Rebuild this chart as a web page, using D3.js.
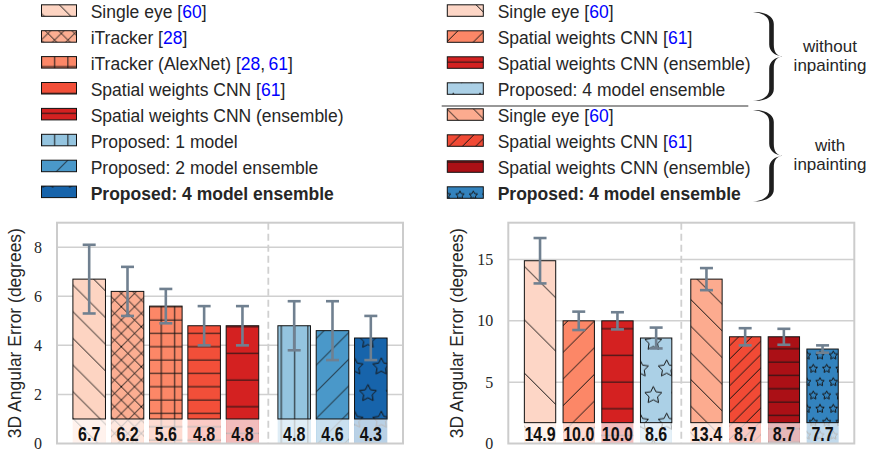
<!DOCTYPE html>
<html>
<head>
<meta charset="utf-8">
<script src="https://d3js.org/d3.v7.min.js"></script>
<style>
  body { margin: 0; background: #fff; }
  svg { display: block; }
</style>
</head>
<body>
<svg id="chart" width="881" height="454"></svg>
<script>
// ---- values ----
const leftNames = ["Single eye", "iTracker", "iTracker (AlexNet)", "Spatial weights CNN",
  "Spatial weights CNN (ensemble)", "Proposed: 1 model", "Proposed: 2 model ensemble",
  "Proposed: 4 model ensemble"];
const leftCites = [["60"], ["28"], ["28", "61"], ["61"], [], [], [], []];
const leftMeans = [6.7, 6.2, 5.6, 4.8, 4.8, 4.8, 4.6, 4.3];
const leftErrs = [1.4, 1.0, 0.7, 0.8, 0.8, 1.0, 1.2, 0.9];
const leftGroup = [0, 0, 0, 0, 0, 1, 1, 1];
const leftTicks = [0, 2, 4, 6, 8];

const rightNames = ["Single eye", "Spatial weights CNN", "Spatial weights CNN (ensemble)",
  "Proposed: 4 model ensemble", "Single eye", "Spatial weights CNN",
  "Spatial weights CNN (ensemble)", "Proposed: 4 model ensemble"];
const rightCites = [["60"], ["61"], [], [], ["60"], ["61"], [], []];
const rightMeans = [14.9, 10.0, 10.0, 8.6, 13.4, 8.7, 8.7, 7.7];
const rightErrs = [1.85, 0.75, 0.7, 0.85, 0.9, 0.7, 0.65, 0.3];
const rightGroup = [0, 0, 0, 0, 1, 1, 1, 1];
const rightTicks = [0, 5, 10, 15];

const groupLabels = [["without", "inpainting"], ["with", "inpainting"]];
const yLabel = "3D Angular Error (degrees)";

// ---- styles ----
const leftColors = ["#fdd4c2", "#fcae92", "#fc8767", "#f24f39", "#d42121", "#94c4df", "#4a98c9", "#1764ab"];
const leftHatches = ["\\\\", "xxxx", "++", "--", "-", "||", "//", "*"];
const leftBold = [false, false, false, false, false, false, false, true];
const rightColors = ["#fdd6c6", "#fc8767", "#d42121", "#abd0e6", "#fcab8f", "#f14a35", "#ab1016", "#3383be"];
const rightHatches = ["\\", "//", "-", "*", "\\\\", "////", "--", "**"];
const rightBold = [false, false, false, false, false, false, false, true];

const TEXT = "#262626";
const SANS = "'Liberation Sans', Arial, sans-serif";
const U = 160; // hatch unit square (px)

const svg = d3.select("#chart");
const defs = svg.append("defs");

// matplotlib-like hatch tile, anchored at a figure origin
function makePattern(id, hatch, origin) {
  const cnt = c => hatch.split(c).length - 1;
  const D = 6;
  const nH = (cnt("-") + cnt("+")) * D;
  const nV = (cnt("|") + cnt("+")) * D;
  const nNE = (cnt("/") + cnt("x")) * D;
  const nSE = (cnt("\\") + cnt("x")) * D;
  const nStar = cnt("*") * D;
  const P = (u, v) => [u * U, (1 - v) * U];
  const segs = [];
  for (let k = 0; k < nH; k++) { const v = (k + 0.5) / nH; segs.push([P(0, v), P(1, v)]); }
  for (let k = 0; k < nV; k++) { const u = (k + 0.5) / nV; segs.push([P(u, 0), P(u, 1)]); }
  for (let k = 0; k <= nNE && nNE; k++) { const s = -0.5 + k / nNE; segs.push([P(s, -s), P(1 + s, 1 - s)]); }
  for (let k = 0; k <= nSE && nSE; k++) { const s = -0.5 + k / nSE; segs.push([P(s, 1 + s), P(1 + s, s)]); }

  let d = segs.map(s => `M${s[0][0]},${s[0][1]}L${s[1][0]},${s[1][1]}`).join("");
  if (nStar) {
    const off = 1 / nStar;
    const r = off * U / 3;
    for (let row = 0; row <= nStar; row++) {
      const cols = row % 2 === 0
        ? d3.range(nStar + 1).map(k => k * off)
        : d3.range(nStar).map(k => off / 2 + k * off);
      cols.forEach(c => {
        const [cx, cy] = P(c, row * off);
        const pts = d3.range(10).map(k => {
          const th = Math.PI / 2 + k * Math.PI / 5;
          const rr = k % 2 === 0 ? r : r / 2;
          return [cx + rr * Math.cos(th), cy - rr * Math.sin(th)];
        });
        d += "M" + pts.map(p => p.join(",")).join("L") + "Z";
      });
    }
  }
  const pat = defs.append("pattern")
    .attr("id", id)
    .attr("patternUnits", "userSpaceOnUse")
    .attr("x", origin[0]).attr("y", origin[1] - U)
    .attr("width", U).attr("height", U);
  pat.append("path").attr("d", d)
    .attr("fill", "none").attr("stroke", "#141414").attr("stroke-width", 1);
}

function drawPanel(cfg) {
  const n = cfg.means.length;
  const pos = d3.range(n).map(i => i + cfg.group[i] * cfg.gap);
  const last = pos[n - 1];
  const x = d3.scaleLinear().domain([-cfg.pad, last + cfg.pad]).range([cfg.x0, cfg.x1]);
  const y = d3.scaleLinear().domain([0, cfg.ymax]).range([cfg.yb, cfg.yt]);
  const bw = cfg.barW * (x(1) - x(0));

  cfg.hatches.forEach((h, i) => makePattern(`${cfg.id}-h${i}`, h, cfg.origin));

  const g = svg.append("g");

  // grid
  g.selectAll(".grid").data(cfg.ticks.filter(t => t > 0)).enter().append("line")
    .attr("x1", cfg.x0).attr("x2", cfg.x1)
    .attr("y1", d => y(d)).attr("y2", d => y(d))
    .attr("stroke", "#d0d0d0").attr("stroke-width", 1.5);

  // group separator
  const firstB = cfg.group.indexOf(1);
  const sepX = (x(pos[firstB - 1]) + x(pos[firstB])) / 2;
  g.append("line")
    .attr("x1", sepX).attr("x2", sepX).attr("y1", cfg.yt).attr("y2", cfg.yb)
    .attr("stroke", "#d0d0d0").attr("stroke-width", 1.8).attr("stroke-dasharray", "7,4");

  const bars = g.selectAll(".bar").data(cfg.means).enter().append("g");
  bars.append("rect")
    .attr("x", (d, i) => x(pos[i]) - bw / 2).attr("width", bw)
    .attr("y", d => y(d)).attr("height", d => y(0) - y(d))
    .attr("fill", (d, i) => cfg.colors[i]);
  bars.append("rect")
    .attr("x", (d, i) => x(pos[i]) - bw / 2).attr("width", bw)
    .attr("y", d => y(d)).attr("height", d => y(0) - y(d))
    .attr("fill", (d, i) => `url(#${cfg.id}-h${i})`);
  // faded base region holding the value label
  bars.append("rect")
    .attr("x", (d, i) => x(pos[i]) - bw / 2).attr("width", bw)
    .attr("y", y(cfg.base)).attr("height", y(0) - y(cfg.base))
    .attr("fill", "#fff").attr("fill-opacity", 0.7);
  bars.append("rect")
    .attr("x", (d, i) => x(pos[i]) - bw / 2).attr("width", bw)
    .attr("y", d => y(d)).attr("height", d => y(cfg.base) - y(d))
    .attr("fill", "none").attr("stroke", "#111").attr("stroke-width", 1);

  // error bars
  const eb = g.selectAll(".err").data(cfg.means).enter().append("g")
    .attr("stroke", "#708090").attr("stroke-width", 2.6);
  eb.append("line")
    .attr("x1", (d, i) => x(pos[i])).attr("x2", (d, i) => x(pos[i]))
    .attr("y1", (d, i) => y(d + cfg.errs[i])).attr("y2", (d, i) => y(d - cfg.errs[i]));
  [1, -1].forEach(sg => {
    eb.append("line")
      .attr("x1", (d, i) => x(pos[i]) - 6.5).attr("x2", (d, i) => x(pos[i]) + 6.5)
      .attr("y1", (d, i) => y(d + sg * cfg.errs[i])).attr("y2", (d, i) => y(d + sg * cfg.errs[i]));
  });

  // value labels (narrow bold face)
  g.selectAll(".val").data(cfg.means).enter().append("text")
    .attr("transform", (d, i) => `translate(${x(pos[i])},${cfg.yb - 2.3}) scale(0.8,1)`)
    .attr("text-anchor", "middle")
    .attr("font-family", SANS)
    .attr("font-weight", "bold").attr("font-size", 20).attr("fill", "#111")
    .text(d => d.toFixed(1));

  // frame
  g.append("rect")
    .attr("x", cfg.x0).attr("y", cfg.yt)
    .attr("width", cfg.x1 - cfg.x0).attr("height", cfg.yb - cfg.yt)
    .attr("fill", "none").attr("stroke", "#cccccc").attr("stroke-width", 2);

  // y tick labels
  g.selectAll(".tick").data(cfg.ticks).enter().append("text")
    .attr("x", cfg.x0 - 15).attr("y", d => y(d))
    .attr("dy", "0.34em")
    .attr("text-anchor", "end")
    .attr("font-family", "'Liberation Serif', 'DejaVu Serif', serif")
    .attr("font-size", 16).attr("fill", TEXT)
    .text(d => d);

  g.append("text")
    .attr("transform", `translate(${cfg.labelX},${(cfg.yt + cfg.yb) / 2}) rotate(-90)`)
    .attr("text-anchor", "middle")
    .attr("font-family", SANS).attr("font-size", 17.5).attr("fill", TEXT)
    .text(yLabel);
}

function drawLegend(cfg) {
  cfg.hatches.forEach((h, i) => makePattern(`${cfg.id}-l${i}`, h, cfg.origin));
  const rows = svg.append("g").selectAll("g").data(cfg.names).enter().append("g");
  const base = (d, i) => cfg.top + i * cfg.step;
  rows.append("rect")
    .attr("x", cfg.sx).attr("width", cfg.sw)
    .attr("y", (d, i) => base(d, i) - 13.5).attr("height", 11.5)
    .attr("fill", (d, i) => cfg.colors[i]);
  rows.append("rect")
    .attr("x", cfg.sx).attr("width", cfg.sw)
    .attr("y", (d, i) => base(d, i) - 13.5).attr("height", 11.5)
    .attr("fill", (d, i) => `url(#${cfg.id}-l${i})`)
    .attr("stroke", "#111").attr("stroke-width", 1);
  const txt = rows.append("text")
    .attr("x", cfg.tx).attr("y", base)
    .attr("font-family", SANS).attr("font-size", 17.5).attr("fill", TEXT)
    .attr("font-weight", (d, i) => cfg.bold[i] ? "bold" : "normal");
  txt.each(function (d, i) {
    const t = d3.select(this);
    t.append("tspan").text(d);
    const cites = cfg.cites[i];
    if (cites.length) {
      t.append("tspan").text(" [");
      cites.forEach((c, k) => {
        if (k > 0) t.append("tspan").text(",\u2009");
        t.append("tspan").attr("fill", "#0000ff").text(c);
      });
      t.append("tspan").text("]");
    }
  });
}

// curly brace, tips on the left, cusp on the right
function brace(x0, y0, y1) {
  const a = 18.5, w = 30, r = 12, t = 4.6;
  const ym = (y0 + y1) / 2;
  const xo = x0 + a + t / 2, xi = x0 + a - t / 2, xc = x0 + w, xm = x0 + a + (w - a) * 0.45;
  const d = `M${x0},${y0}` +
    `C${x0 + a * 0.6},${y0 - 0.4} ${xo},${y0 + r * 0.3} ${xo},${y0 + r}` +
    `L${xo},${ym - r}` +
    `C${xo},${ym - r * 0.35} ${xm},${ym - 0.4} ${xc},${ym}` +
    `C${xm},${ym + 0.4} ${xo},${ym + r * 0.35} ${xo},${ym + r}` +
    `L${xo},${y1 - r}` +
    `C${xo},${y1 - r * 0.3} ${x0 + a * 0.6},${y1 + 0.4} ${x0},${y1}` +
    `C${x0 + a * 0.5},${y1 - 0.9} ${xi},${y1 - r * 0.35} ${xi},${y1 - r}` +
    `L${xi},${ym + r}` +
    `C${xi},${ym + r * 0.45} ${xm - 2},${ym + 0.6} ${xc},${ym}` +
    `C${xm - 2},${ym - 0.6} ${xi},${ym - r * 0.45} ${xi},${ym - r}` +
    `L${xi},${y0 + r}` +
    `C${xi},${y0 + r * 0.35} ${x0 + a * 0.5},${y0 + 0.9} ${x0},${y0}Z`;
  svg.append("path").attr("d", d).attr("fill", "#1e1e1e");
}

drawPanel({
  id: "L", means: leftMeans, errs: leftErrs, group: leftGroup, ticks: leftTicks,
  colors: leftColors, hatches: leftHatches,
  x0: 57, x1: 403, yt: 222.7, yb: 443.5, ymax: 9, gap: 0.35, pad: 0.84, barW: 0.85,
  base: 1, labelX: 21, origin: [21.3, 446.7]
});
drawPanel({
  id: "R", means: rightMeans, errs: rightErrs, group: rightGroup, ticks: rightTicks,
  colors: rightColors, hatches: rightHatches,
  x0: 508.3, x1: 854.3, yt: 222.7, yb: 443.5, ymax: 18, gap: 0.3, pad: 0.82, barW: 0.81,
  base: 1.7, labelX: 462.5, origin: [440, 448.7]
});

drawLegend({
  id: "LL", names: leftNames, cites: leftCites, colors: leftColors, hatches: leftHatches,
  bold: leftBold, top: 18.3, step: 25.9, sx: 41.5, sw: 35, tx: 90.7, origin: [21.3, 446.7]
});
drawLegend({
  id: "RL", names: rightNames, cites: rightCites, colors: rightColors, hatches: rightHatches,
  bold: rightBold, top: 18.3, step: 26, sx: 447.3, sw: 36, tx: 497.7, origin: [440, 448.7]
});

// separator between the two legend groups
svg.append("line")
  .attr("x1", 441.7).attr("x2", 748.3).attr("y1", 106).attr("y2", 106)
  .attr("stroke", "#333").attr("stroke-width", 1.2);

brace(753, 12, 101);
brace(753, 110, 201.5);

const groupText = svg.append("g")
  .attr("font-family", SANS).attr("font-size", 17).attr("fill", TEXT)
  .attr("text-anchor", "middle");
[[52, 71.2], [150.6, 169.8]].forEach((ys, gi) => {
  groupLabels[gi].forEach((s, k) => {
    groupText.append("text").attr("x", 830).attr("y", ys[k]).text(s);
  });
});
</script>
</body>
</html>
